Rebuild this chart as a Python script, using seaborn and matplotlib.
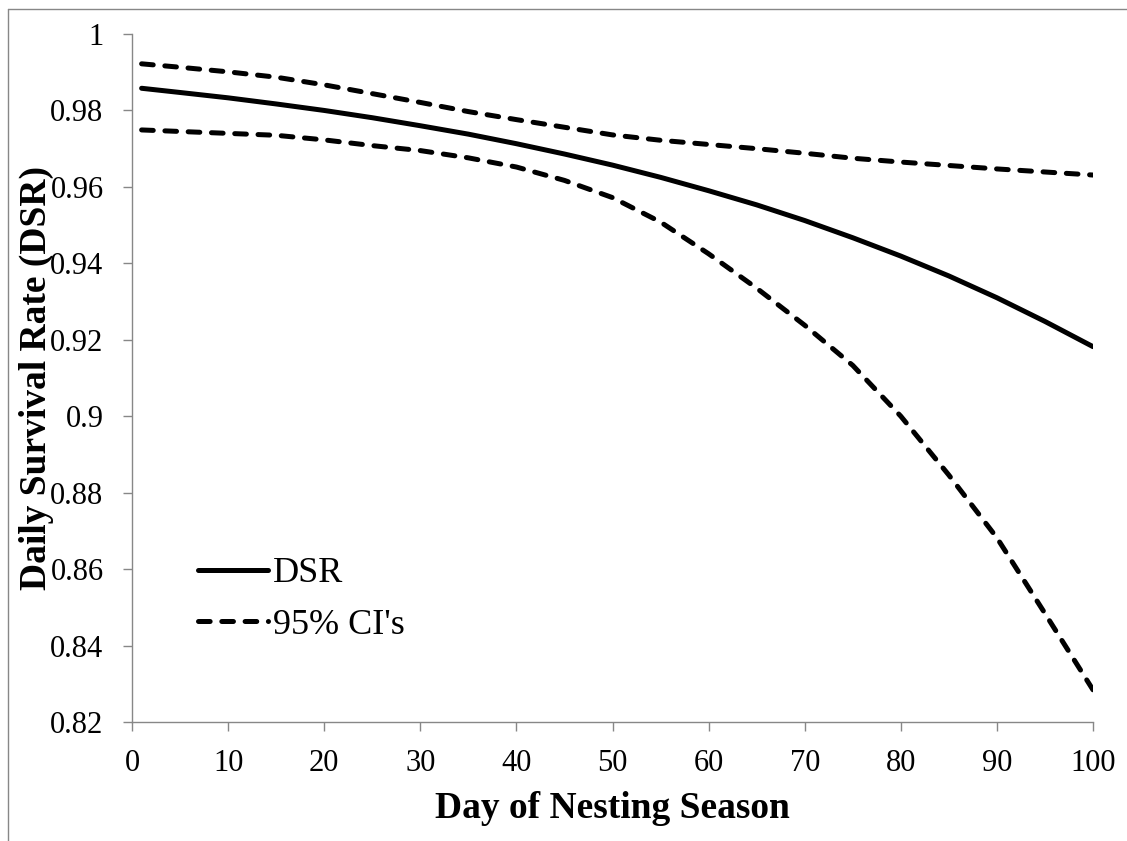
import matplotlib
matplotlib.use("Agg")
import matplotlib.pyplot as plt
from matplotlib.lines import Line2D
import seaborn as sns
import pandas as pd

# Day of nesting season
days = [1, 5, 10, 15, 20, 25, 30, 35, 40, 45, 50,
        55, 60, 65, 70, 75, 80, 85, 90, 95, 100]

# Daily survival rate estimate
dsr = [0.9858, 0.9847, 0.9833, 0.9817, 0.9800, 0.9781, 0.9760, 0.9738,
       0.9713, 0.9686, 0.9657, 0.9625, 0.9590, 0.9553, 0.9512, 0.9467,
       0.9419, 0.9367, 0.9310, 0.9248, 0.9182]

# Upper 95% confidence limit
ci_upper = [0.9922, 0.9913, 0.9901, 0.9887, 0.9867, 0.9844, 0.9821, 0.9797,
            0.9776, 0.9756, 0.9736, 0.9722, 0.9711, 0.9700, 0.9688, 0.9675,
            0.9665, 0.9656, 0.9647, 0.9639, 0.9631]

# Lower 95% confidence limit
ci_lower = [0.9749, 0.9745, 0.9740, 0.9735, 0.9723, 0.9708, 0.9695, 0.9676,
            0.9652, 0.9617, 0.9572, 0.9508, 0.9425, 0.9335, 0.9238, 0.9133,
            0.9000, 0.8846, 0.8682, 0.8484, 0.8284]

x_ticks = [0, 10, 20, 30, 40, 50, 60, 70, 80, 90, 100]
y_ticks = [0.82, 0.84, 0.86, 0.88, 0.90, 0.92, 0.94, 0.96, 0.98, 1.00]

x_title = "Day of Nesting Season"
y_title = "Daily Survival Rate (DSR)"
legend_labels = ["DSR", "95% CI's"]

df = pd.DataFrame({"day": days, "dsr": dsr, "upper": ci_upper, "lower": ci_lower})

sns.set_style("white")
plt.rcParams["font.family"] = ["Liberation Serif", "DejaVu Serif"]

axis_gray = "#878787"
fig = plt.figure(figsize=(11.27, 8.41), dpi=100)
ax = fig.add_axes([132 / 1127, 1 - 722 / 841, (1093 - 132) / 1127, (722 - 34) / 841])

lw = 3.6
dash = (0, (2.33, 2.33))
sns.lineplot(data=df, x="day", y="dsr", ax=ax, color="black", linewidth=lw,
             solid_capstyle="round", label=legend_labels[0])
sns.lineplot(data=df, x="day", y="upper", ax=ax, color="black", linewidth=lw,
             linestyle=dash, dash_capstyle="round", label=legend_labels[1])
sns.lineplot(data=df, x="day", y="lower", ax=ax, color="black", linewidth=lw,
             linestyle=dash, dash_capstyle="round", label="_nolegend_")

ax.set_xlim(0, 100)
ax.set_ylim(0.82, 1.0)
ax.set_xticks(x_ticks)
ax.set_xticklabels([f"{v:g}" for v in x_ticks])
ax.set_yticks(y_ticks)
ax.set_yticklabels([f"{v:g}" for v in y_ticks])

for side in ("top", "right"):
    ax.spines[side].set_visible(False)
for side in ("left", "bottom"):
    ax.spines[side].set_color(axis_gray)
    ax.spines[side].set_linewidth(1.0)

ax.tick_params(axis="both", which="major", direction="out", length=6.5, width=1.0,
               color=axis_gray, labelsize=22, labelcolor="black",
               bottom=True, left=True, top=False, right=False)
ax.tick_params(axis="x", pad=13)
ax.tick_params(axis="y", pad=14)

ax.set_xlabel(x_title, fontsize=27, fontweight="bold", color="black")
ax.set_ylabel(y_title, fontsize=27, fontweight="bold", color="black", va="center")
ax.xaxis.set_label_coords(0.5, 1 - (809 - 34) / (722 - 34))
ax.xaxis.label.set_va("center")
ax.yaxis.set_label_coords((36 - 132) / (1093 - 132), 0.5)

leg = ax.legend(loc="upper left", bbox_to_anchor=((198 - 132) / 961, 1 - (557 - 34) / 688),
                frameon=False, fontsize=26, handlelength=1.95, handletextpad=0.12,
                labelspacing=0.5, borderaxespad=0, borderpad=0)
for h in leg.get_lines():
    h.set_linewidth(lw)
for t in leg.get_texts():
    t.set_color("black")

# outer chart-area border (left and top edges)
fig.add_artist(Line2D([8.3 / 1127, 8.3 / 1127], [0, 1 - 9 / 841],
                      transform=fig.transFigure, color=axis_gray, linewidth=1.0))
fig.add_artist(Line2D([8.3 / 1127, 1], [1 - 9 / 841, 1 - 9 / 841],
                      transform=fig.transFigure, color=axis_gray, linewidth=1.0))

fig.savefig("out.png", dpi=100, facecolor="white")
